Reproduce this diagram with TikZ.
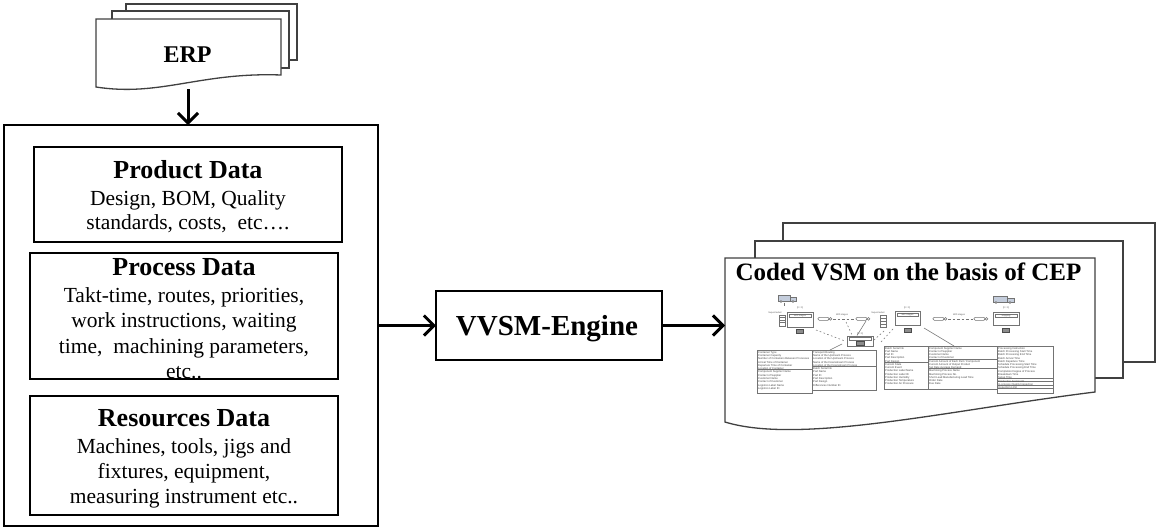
\documentclass[tikz,border=0pt]{standalone}
\usepackage{fontspec}
\setmainfont{Liberation Serif}
\newfontfamily\tinysans{Liberation Sans}
\usetikzlibrary{arrows.meta}

\definecolor{vsmgray}{gray}{0.45}
\definecolor{truckfill}{RGB}{196,205,220}

\begin{document}
\begin{tikzpicture}[x=1pt,y=-1pt,
  every node/.style={inner sep=0pt,outer sep=0pt},
  databox/.style={draw,line width=2.6pt},
  titletxt/.style={anchor=base,font=\fontsize{26}{30}\selectfont\bfseries},
  bodytxt/.style={anchor=base,font=\fontsize{21.5}{25}\selectfont},
  flow/.style={line width=3pt,-{Straight Barb[length=10pt,width=20pt]}},
  docline/.style={draw=black!75,line width=1.3pt,fill=white},
  vsmthin/.style={draw=vsmgray,line width=0.55pt},
  tabtxt/.style={anchor=base west,text=black!72,font=\tinysans\fontsize{2.7}{3}\selectfont},
  minitxt/.style={text=black!65,font=\tinysans\fontsize{2.3}{2.6}\selectfont},
  monitor/.style={draw=black!70,fill=black!45,line width=0.4pt}
]
\useasboundingbox (0,0) rectangle (1156,528);

% ---------------- ERP document stack ----------------
\draw[docline] (126,4) rectangle (297,60);
\draw[docline] (112,11) rectangle (289,68);
\draw[docline] (96,19) -- (281,19) -- (281,75)
  .. controls (200,72) and (160,97) .. (96,87) -- cycle;
\node[minimum width=185pt,minimum height=69pt] (erpdoc) at (188.5,53.5) {};
\node[anchor=base,font=\fontsize{24}{28}\selectfont\bfseries] (erptxt) at (187.5,62) {ERP};
\coordinate (erpfoot) at (188,89);

% ---------------- data frame ----------------
\node[draw,line width=2pt,minimum width=374pt,minimum height=401pt] (bigbox) at (191,325.5) {};

\node[databox,minimum width=308pt,minimum height=95pt] (product) at (188,194.5) {};
\node[titletxt] (productT) at (188,178) {Product Data};
\node[bodytxt] (productA) at (188,205) {Design, BOM, Quality};
\node[bodytxt] (productB) at (188,229) {standards, costs,\ \ etc….};

\node[databox,minimum width=308pt,minimum height=126pt] (process) at (184,316) {};
\node[titletxt] (processT) at (184,275) {Process Data};
\node[bodytxt] (processA) at (184,302) {Takt-time, routes, priorities,};
\node[bodytxt] (processB) at (184,327) {work instructions, waiting};
\node[bodytxt] (processC) at (184,353) {time,\ \ machining parameters,};
\node[bodytxt] (processD) at (184,378) {etc..};

\node[databox,minimum width=308pt,minimum height=119pt] (resources) at (184,455.5) {};
\node[titletxt] (resourcesT) at (184,426) {Resources Data};
\node[bodytxt] (resourcesA) at (184,453) {Machines, tools, jigs and};
\node[bodytxt] (resourcesB) at (184,478) {fixtures, equipment,};
\node[bodytxt] (resourcesC) at (184,503) {measuring instrument etc..};

% ---------------- engine ----------------
\node[draw,line width=2.7pt,minimum width=226pt,minimum height=69pt] (engine) at (549,325.5) {};
\node[anchor=base,font=\fontsize{29}{34}\selectfont\bfseries] (engineT) at (547,335) {VVSM-Engine};

% ---------------- coded VSM document stack ----------------
\draw[docline] (783,223) rectangle (1155,362);
\draw[docline] (755,241) rectangle (1123,378);
\draw[docline] (725,258) -- (1095,258) -- (1095,392)
  .. controls (950,410) and (800,445) .. (725,422) -- cycle;
\node[minimum width=370pt,minimum height=164pt] (vsmdoc) at (910,340) {};
\node[anchor=base,font=\fontsize{25}{30}\selectfont\bfseries] (vsmT) at (908.5,280) {Coded VSM on the basis of CEP};

% small value stream map
% suppliers / customer trucks
\draw[vsmthin,fill=truckfill] (778,295) rectangle (790,301);
\draw[vsmthin,fill=truckfill] (790,297) rectangle (796,301);
\draw[vsmthin,fill=white] (781,301.5) circle (1) (793,301.5) circle (1);
\draw[vsmthin,fill=truckfill] (993,296) rectangle (1007,302);
\draw[vsmthin,fill=truckfill] (1007,298) rectangle (1014,302);
\draw[vsmthin,fill=white] (996,302.5) circle (1) (1010,302.5) circle (1);
\draw[vsmthin] (784,302.5) -- (784,306);

% process stages
\node[minitxt] (h1) at (800,308) {[0\,=\,0]};
\node[minitxt] (h2) at (907,307.5) {[0\,=\,0]};
\node[minitxt] (h3) at (1006,308) {[0\,=\,0]};
\draw[vsmthin,fill=white] (787,312) rectangle (813,327);
\draw[vsmthin] (789,314) rectangle (811,317.5);
\node[minitxt] (s1) at (800,315.8) {WIP-stages};
\draw[monitor] (796,329) rectangle (803,333);
\draw[vsmthin,fill=white] (895,311) rectangle (920,325);
\draw[vsmthin] (897,313) rectangle (918,316.5);
\node[minitxt] (s2) at (907.5,314.8) {WIP-stages};
\draw[monitor] (904,328.5) rectangle (911,332.5);
\draw[vsmthin,fill=white] (993,312) rectangle (1019,325);
\draw[vsmthin] (995,314) rectangle (1017,317.5);
\node[minitxt] (s3) at (1006,315.8) {Shipping};
\draw[monitor] (1002,328) rectangle (1009,332);

% supermarkets
\node[minitxt] (m1) at (775,313) {Supermarket};
\draw[vsmthin,fill=white] (779,315) rectangle (785,326);
\foreach \r in {317.5,320,322.5} \draw[vsmthin] (779,\r) -- (785,\r);
\node[minitxt] (m2) at (878,313) {Supermarket};
\draw[vsmthin,fill=white] (880,315) rectangle (886,327);
\foreach \r in {318,321,324} \draw[vsmthin] (880,\r) -- (886,\r);

% pull links between stages
\draw[vsmthin,rounded corners=1.2] (818,317.3) rectangle (829,320.3);
\draw[vsmthin] (830.5,318.8) circle (1.4);
\draw[vsmthin,dash pattern=on 2.5pt off 2pt] (833,318.8) -- (855,318.8);
\draw[vsmthin,rounded corners=1.2] (856,317.3) rectangle (867,320.3);
\draw[vsmthin] (868.5,318.8) circle (1.4);
\node[minitxt] (w1) at (842,314.5) {WIP-stages};
\draw[vsmthin,rounded corners=1.2] (933,317.3) rectangle (944,320.3);
\draw[vsmthin] (945.5,318.8) circle (1.4);
\draw[vsmthin,dash pattern=on 2.5pt off 2pt] (948,318.8) -- (973,318.8);
\draw[vsmthin,rounded corners=1.2] (974,317.3) rectangle (985,320.3);
\draw[vsmthin] (986.5,318.8) circle (1.4);
\node[minitxt] (w2) at (959,314.5) {WIP-stages};

% logistics unit
\node[minitxt] (h4) at (860,334) {[0\,=\,0]};
\draw[vsmthin,fill=white] (847,336) rectangle (873,346);
\draw[vsmthin] (849,337.5) rectangle (871,340);
\draw[monitor] (856,341.5) rectangle (864,345);
\draw[vsmthin] (866,321) -- (857,335.5);
\draw[vsmthin,dash pattern=on 1.6pt off 2.4pt] (816,330) -- (845,341);
\draw[vsmthin,dash pattern=on 1.6pt off 2.4pt] (846,322) -- (852,335);
\draw[vsmthin,dash pattern=on 1.6pt off 2.4pt] (884,331) -- (874,340);
\draw[vsmthin,dash pattern=on 1.6pt off 2.4pt] (893,329) -- (880,343);
\draw[vsmthin] (830,350) -- (842,344);
\draw[vsmthin] (924,328) -- (954,346);

% data tables
\draw[vsmthin] (757,350) rectangle (812,393);
\draw[vsmthin] (812,350) rectangle (876,390);
\draw[vsmthin] (757,369.6) -- (812,369.6);
\draw[vsmthin] (812,366.3) -- (876,366.3);
\foreach \txt [count=\i] in {Container Type,Container Capacity,Number of Containers Between Processes,Arrival Time of Container,Departure Time of Container,Location of Container,Component Supplier Name,Contact of Supplier,Customer Name,Contact of Customer,Logistics Label Name,Logistics Label ID}
  \node[tabtxt] (ta\i) at (758.2,{349.8+3.3*\i}) {\txt};
\foreach \txt [count=\i] in {Transport Routing,Name of the Upstream Process,Location of the Upstream Process,Name of the Downstream Process,Location of the Downstream Process,Batch Serial No,Part Name,Part ID,Part Description,Part Design,Differences Number ID}
  \node[tabtxt] (tb\i) at (813.2,{349.8+3.3*\i}) {\txt};

\draw[vsmthin] (884,346) rectangle (928,389);
\draw[vsmthin] (928,346) rectangle (997,389);
\draw[vsmthin] (997,346) rectangle (1053,393);
\draw[vsmthin] (884,362.3) -- (928,362.3);
\draw[vsmthin] (928,359) -- (997,359);
\draw[vsmthin] (928,368.6) -- (997,368.6);
\foreach \r in {378.2,381.5,384.8,388.1} \draw[vsmthin] (997,\r) -- (1053,\r);
\foreach \txt [count=\i] in {Batch Serial No,Part Name,Part ID,Part Description,Part Design,Current State,Current Event,Production Label Name,Production Label ID,Production Humidity,Production Temperature,Production Air Pressure}
  \node[tabtxt] (tc\i) at (885.2,{345.8+3.25*\i}) {\txt};
\foreach \txt [count=\i] in {Component Supplier Name,Contact of Supplier,Customer Name,Contact of Customer,Current Amount of Each Part / Component,Current Amount of Output Product,Set Date Average Demand,Machining Process Name,Machining Process No.,Short Lead Manufacturing Lead Time,Order Date,Due Date}
  \node[tabtxt] (td\i) at (929.2,{345.8+3.25*\i}) {\txt};
\foreach \txt [count=\i] in {Processing Instruction,Batch Processing Start Time,Batch Processing End Time,Batch Arrival Time,Batch Departure Time,Schedule Processing Start Time,Schedule Processing End Time,Completion Degree of Process,Breakdown Time,Setup Time,Production Section ID,In-process Quality Inspection,Inspection Limit}
  \node[tabtxt] (te\i) at (998.2,{345.8+3.3*\i}) {\txt};

% ---------------- connectors ----------------
\draw[flow] (erpfoot) -- (erpfoot |- bigbox.north);
\draw[flow] (bigbox.east) -- (engine.west);
\draw[flow] (engine.east) -- (engine.east -| vsmdoc.west);
\end{tikzpicture}
\end{document}
